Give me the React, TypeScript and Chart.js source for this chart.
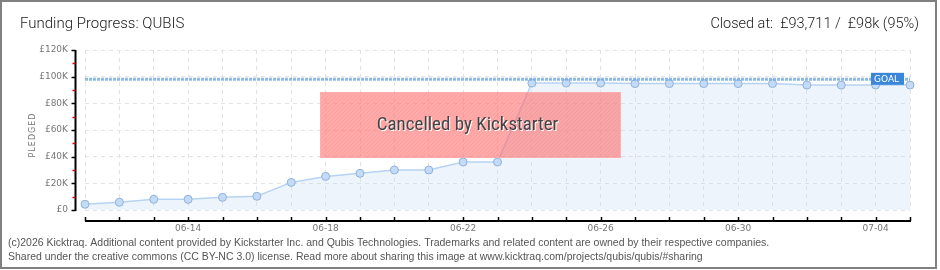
import React, { useEffect, useRef } from 'react';
import { Chart, registerables } from 'chart.js';

Chart.register(...registerables);

// ---------- data ----------
const DATES: string[] = [
  '06-11', '06-12', '06-13', '06-14', '06-15', '06-16', '06-17', '06-18', '06-19', '06-20',
  '06-21', '06-22', '06-23', '06-24', '06-25', '06-26', '06-27', '06-28', '06-29', '06-30',
  '07-01', '07-02', '07-03', '07-04', '07-05',
];
const PLEDGED: number[] = [
  4300, 5800, 8000, 8000, 9500, 10300, 20700, 25200, 27500, 30000,
  30000, 36000, 36000, 95200, 95200, 95200, 94800, 94800, 94800, 94800,
  94800, 93700, 93700, 93700, 93711,
];
const GOAL = 98000;
const GOAL_LINE: number[] = DATES.map(() => GOAL);
const Y_MIN = 0;
const Y_MAX = 120000;
const Y_STEP = 20000;
const X_LABEL_START = 3;
const X_LABEL_EVERY = 4;

const TITLE = 'Funding Progress: QUBIS';
const STATUS = 'Closed at:  £93,711 /  £98k (95%)';
const Y_TITLE = 'PLEDGED';
const GOAL_TEXT = 'GOAL';
const OVERLAY_TEXT = 'Cancelled by Kickstarter';
const FOOTER: string[] = [
  '(c)2026 Kicktraq. Additional content provided by Kickstarter Inc. and Qubis Technologies. Trademarks and related content are owned by their respective companies.',
  'Shared under the creative commons (CC BY-NC 3.0) license. Read more about sharing this image at www.kicktraq.com/projects/qubis/qubis/#sharing',
];

const W = 940;
const H = 270;

const decorPlugin = {
  id: 'decor',
  afterDatasetsDraw(chart: any) {
    const ctx = chart.ctx as CanvasRenderingContext2D;
    const { left, top } = chart.chartArea;
    const ys = chart.scales.y;
    // GOAL tag
    const gy = ys.getPixelForValue(GOAL);
    const bx = chart.chartArea.right - 39;
    ctx.save();
    ctx.fillStyle = '#3a86d8';
    ctx.fillRect(bx, gy - 6.5, 33, 12);
    ctx.fillStyle = '#ffffff';
    ctx.font = '9px "DejaVu Sans"';
    ctx.textBaseline = 'middle';
    ctx.textAlign = 'left';
    ctx.fillText(GOAL_TEXT, bx + 3, gy);
    ctx.restore();

    // Cancelled overlay
    const ox = left + 235;
    const oy = top + 42;
    const ow = 301;
    const oh = 66;
    ctx.save();
    ctx.fillStyle = 'rgba(255, 112, 112, 0.6)';
    ctx.fillRect(ox, oy, ow, oh);
    ctx.beginPath();
    ctx.rect(ox, oy, ow, oh);
    ctx.clip();
    ctx.strokeStyle = 'rgba(220, 80, 80, 0.1)';
    ctx.lineWidth = 1;
    for (let d = -oh; d < ow; d += 4) {
      ctx.beginPath();
      ctx.moveTo(ox + d, oy + oh);
      ctx.lineTo(ox + d + oh, oy);
      ctx.stroke();
    }
    ctx.restore();
    ctx.save();
    ctx.strokeStyle = 'rgba(255, 175, 175, 0.9)';
    ctx.lineWidth = 1;
    ctx.strokeRect(ox + 0.5, oy + 0.5, ow - 1, oh - 1);
    ctx.font = '19px "Roboto Condensed", Roboto';
    ctx.textAlign = 'center';
    ctx.textBaseline = 'middle';
    const tx = ox + ow / 2 - 3;
    const ty = oy + oh / 2;
    ctx.fillStyle = '#ffffff';
    ctx.fillText(OVERLAY_TEXT, tx + 1, ty + 1);
    ctx.fillStyle = '#444444';
    ctx.fillText(OVERLAY_TEXT, tx, ty);
    ctx.restore();
  },
  afterDraw(chart: any) {
    const ctx = chart.ctx as CanvasRenderingContext2D;
    const { left, right, top, bottom } = chart.chartArea;
    const ys = chart.scales.y;
    const xs = chart.scales.x;
    ctx.save();
    // y axis line
    const ax = left - 9.5;
    ctx.strokeStyle = '#000';
    ctx.lineWidth = 2;
    ctx.beginPath();
    ctx.moveTo(ax, top);
    ctx.lineTo(ax, bottom + 1);
    ctx.stroke();
    for (let v = Y_MIN; v <= Y_MAX; v += Y_STEP) {
      const py = Math.round(ys.getPixelForValue(v)) + 0.5;
      ctx.strokeStyle = '#000';
      ctx.lineWidth = 1.5;
      ctx.beginPath();
      ctx.moveTo(ax - 4, py);
      ctx.lineTo(ax, py);
      ctx.stroke();
      if (v < Y_MAX) {
        const my = Math.round(ys.getPixelForValue(v + Y_STEP / 2)) + 0.5;
        ctx.strokeStyle = '#e00000';
        ctx.beginPath();
        ctx.moveTo(ax - 3, my);
        ctx.lineTo(ax, my);
        ctx.stroke();
      }
    }
    // x axis line
    const ay = bottom + 11;
    ctx.strokeStyle = '#000';
    ctx.lineWidth = 2;
    ctx.beginPath();
    ctx.moveTo(left, ay);
    ctx.lineTo(right + 1, ay);
    ctx.stroke();
    ctx.lineWidth = 1.5;
    for (let i = 0; i < DATES.length; i++) {
      const px = Math.round(xs.getPixelForValue(i)) + 0.5;
      ctx.beginPath();
      ctx.moveTo(px, ay - 4);
      ctx.lineTo(px, ay);
      ctx.stroke();
    }
    // y title
    ctx.save();
    ctx.translate(33, (top + bottom) / 2 + 5);
    ctx.rotate(-Math.PI / 2);
    ctx.font = '8px "DejaVu Sans"';
    (ctx as any).letterSpacing = '1px';
    ctx.fillStyle = '#777';
    ctx.textAlign = 'center';
    ctx.textBaseline = 'middle';
    ctx.fillText(Y_TITLE, 0, 0);
    ctx.restore();
    // titles
    ctx.fillStyle = '#1a1a1a';
    ctx.font = '300 15px Roboto';
    ctx.textBaseline = 'middle';
    ctx.textAlign = 'left';
    ctx.fillText(TITLE, 20, 24);
    ctx.font = '300 14.5px Roboto';
    ctx.textAlign = 'right';
    ctx.fillText(STATUS, 919, 24);
    // footer
    ctx.font = '10.5px "Liberation Sans"';
    ctx.fillStyle = '#555';
    ctx.textAlign = 'left';
    ctx.fillText(FOOTER[0], 8, 243);
    ctx.fillText(FOOTER[1], 8, 257);
    // frame
    ctx.strokeStyle = '#808080';
    ctx.lineWidth = 2;
    ctx.strokeRect(1, 1, 935, 267);
    ctx.restore();
  },
};

export default function App() {
  const ref = useRef<HTMLCanvasElement | null>(null);
  useEffect(() => {
    if (!ref.current) return;
    const chart = new Chart(ref.current, {
      type: 'line',
      data: {
        labels: DATES,
        datasets: [
          {
            label: 'Goal',
            data: GOAL_LINE,
            borderColor: 'rgba(120, 172, 232, 0.85)',
            borderWidth: 3,
            borderDash: [3, 1],
            pointRadius: 0,
            fill: false,
            order: 1,
          },
          {
            label: 'Pledged',
            data: PLEDGED,
            borderColor: '#b7d3f2',
            borderWidth: 1.5,
            backgroundColor: 'rgba(190, 215, 245, 0.28)',
            fill: 'origin',
            tension: 0,
            pointRadius: 4,
            pointBackgroundColor: '#c3dbf6',
            pointBorderColor: '#8fb1d9',
            pointBorderWidth: 1,
            order: 2,
          },
        ],
      },
      options: {
        animation: false,
        responsive: false,
        maintainAspectRatio: false,
        events: [],
        layout: { padding: { top: 50, right: 30, bottom: 0, left: 0 } },
        plugins: { legend: { display: false }, tooltip: { enabled: false }, title: { display: false } },
        scales: {
          x: {
            type: 'category',
            offset: false,
            grid: { color: '#e3e3e3', lineWidth: 1, drawTicks: false },
            border: { display: false, dash: [4, 4] },
            ticks: {
              autoSkip: false,
              maxRotation: 0,
              minRotation: 0,
              padding: 13,
              color: '#777',
              font: { family: 'DejaVu Sans', size: 9 },
              callback: (_v: any, i: number) =>
                i >= X_LABEL_START && (i - X_LABEL_START) % X_LABEL_EVERY === 0 ? DATES[i] : '',
            },
            afterFit: (s: any) => {
              s.height = 60;
            },
          },
          y: {
            min: Y_MIN,
            max: Y_MAX,
            grid: { color: '#e3e3e3', lineWidth: 1, drawTicks: false },
            border: { display: false, dash: [4, 4] },
            ticks: {
              stepSize: Y_STEP,
              padding: 17,
              color: '#777',
              font: { family: 'DejaVu Sans', size: 9 },
              callback: (v: any) => (v === 0 ? '£0' : '£' + Number(v) / 1000 + 'K'),
            },
            afterFit: (s: any) => {
              s.width = 85;
            },
          },
        },
      },
      plugins: [decorPlugin],
    });
    return () => chart.destroy();
  }, []);
  return (
    <div style={{ position: 'fixed', left: 0, top: 0, width: W, height: H, background: '#fff' }}>
      <canvas ref={ref} width={W} height={H} style={{ width: W, height: H, display: 'block' }} />
    </div>
  );
}
